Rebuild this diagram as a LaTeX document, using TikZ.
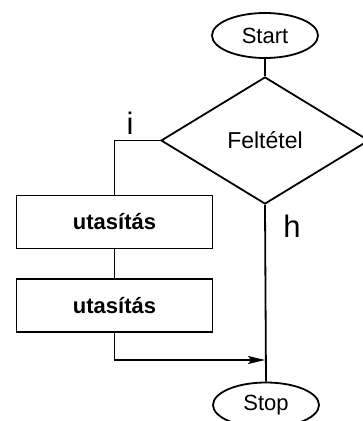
\documentclass[tikz,border=0pt]{standalone}
\usepackage{fontspec}
\setmainfont{Liberation Sans}
\usetikzlibrary{shapes.geometric,arrows.meta}

\tikzset{
  terminal/.style={draw, ellipse, line width=1.8pt, inner sep=0pt,
    minimum width=106pt, minimum height=45pt, font=\fontsize{22}{26}\selectfont},
  decision/.style={draw, diamond, line width=1.8pt, inner sep=0pt, aspect=1.64,
    minimum width=208pt, minimum height=127pt, font=\fontsize{23}{27}\selectfont},
  process/.style={draw, rectangle, line width=1.8pt, inner sep=0pt,
    minimum width=196pt, minimum height=53pt, font=\bfseries\fontsize{22}{26}\selectfont},
  flow/.style={line width=1.8pt},
  branch/.style={font=\fontsize{31}{35}\selectfont, inner sep=0pt}
}

\begin{document}
\begin{tikzpicture}[x=1pt, y=-1pt]
  \clip (0,0) rectangle (363,421);
  \useasboundingbox (0,0) rectangle (363,421);

  % flowchart nodes
  \node[terminal] (start) at (265,35.5) {Start};
  \node[decision] (cond) at (265,140.5) {Feltétel};
  \node[process] (stmtA) at (114.5,222) {utasítás};
  \node[process] (stmtB) at (114.5,305.5) {utasítás};
  \node[terminal] (stop) at (266,405) {Stop};
  \coordinate (merge) at (265,360);

  % branch labels
  \node[branch] (yes) at (130,123) {i};
  \node[branch] (no) at (292,226) {h};

  % connectors
  \draw[flow] (start) -- (cond.north);
  \draw[flow] (cond.west) -| (stmtA.north);
  \draw[flow] (stmtA) -- (stmtB);
  \draw[flow] (cond.south) -- (stop.north);
  \draw[line width=1.6pt, -{Stealth[length=17pt, width=8pt, inset=3pt]}]
    (stmtB.south) |- (merge);
\end{tikzpicture}
\end{document}
